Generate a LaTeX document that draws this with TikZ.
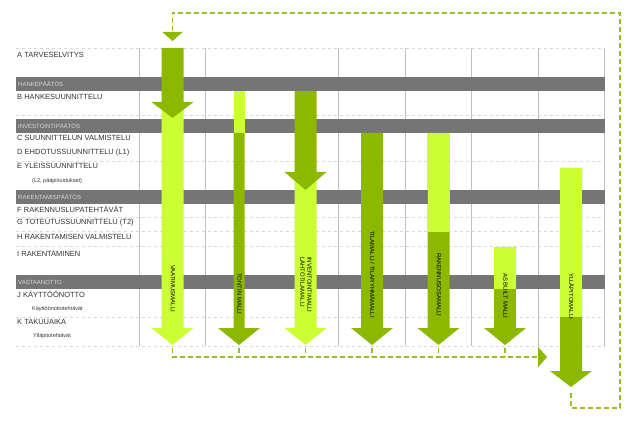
\documentclass[tikz,border=0pt]{standalone}
\usepackage{fontspec}
\setmainfont{Liberation Sans}
\usepackage{xcolor}
\definecolor{Dark}{RGB}{141,184,0}
\definecolor{Light}{RGB}{204,255,51}
\definecolor{BandCol}{RGB}{117,117,117}
\definecolor{LoopCol}{RGB}{152,190,40}
\usepackage{tikz}
\usetikzlibrary{arrows.meta}
\tikzstyle{Row}=[anchor=west,inner sep=0pt,text=black!80,
font=\fontsize{7.5}{9}\selectfont]
\tikzstyle{SubRow}=[anchor=west,inner sep=0pt,text=black!80,
font=\fontsize{5.5}{7}\selectfont]
\tikzstyle{BandText}=[anchor=west,inner sep=0pt,text=white!85!black,
font=\fontsize{6}{7}\selectfont]
\tikzstyle{Model}=[anchor=west,rotate=-90,inner sep=0pt,align=left,
font=\fontsize{6}{7}\selectfont]
\tikzstyle{Grid}=[draw=black!25,line width=.6pt]
\tikzstyle{RowLine}=[draw=black!15,dashed,line width=.5pt]
\tikzstyle{Loop}=[draw=LoopCol,line width=1.8pt,dash pattern=on 5pt off 3pt]
\tikzstyle{LoopTip}=[-{Triangle[width=20pt,length=9pt,color=Dark]}]
% colour, x, top, head base, tip, half shaft
\newcommand{\ModelArrow}[6]{\fill[#1] (#2-#6,#3) -- (#2+#6,#3) -- (#2+#6,#4)
    -- (#2+21,#4) -- (#2,#5) -- (#2-21,#4) -- (#2-#6,#4) -- cycle;}
\newcommand{\ModelBar}[5]{\fill[#1] (#2-#5,#3) rectangle (#2+#5,#4);}
\begin{document}
\begin{tikzpicture}[x=1pt,y=-1pt]
            \useasboundingbox (0,0) rectangle (637,422);
            \foreach \y in {48,115,161,217,231,246,317,346}
                \draw[RowLine] (16,\y) -- (605,\y);
            \foreach \x in {139,205.5,338.5,405,471.5,538,604.5}
                \draw[Grid] (\x,48) -- (\x,346);
            \foreach \y in {77,119,190,275}
                \fill[BandCol] (16,\y) rectangle (605,\y+14);
            \node[BandText](hp)at(18,84){HANKEPÄÄTÖS};
            \node[BandText](ip)at(18,126){INVESTOINTIPÄÄTÖS};
            \node[BandText](rp)at(18,197){RAKENTAMISPÄÄTÖS};
            \node[BandText](vo)at(18,282){VASTAANOTTO};
            \node[Row](A)at(17,55){A TARVESELVITYS};
            \node[Row](B)at(17,97){B HANKESUUNNITTELU};
            \node[Row](C)at(17,138){C SUUNNITTELUN VALMISTELU};
            \node[Row](D)at(17,153){D EHDOTUSSUUNNITTELU (L1)};
            \node[Row](E)at(17,166){E YLEISSUUNNITTELU};
            \node[SubRow](E2)at(32,181){(L2, pääpiirustukset)};
            \node[Row](F)at(17,209){F RAKENNUSLUPATEHTÄVÄT};
            \node[Row](G)at(17,223){G TOTEUTUSSUUNNITTELU (T2)};
            \node[Row](H)at(17,237){H RAKENTAMISEN VALMISTELU};
            \node[Row](I)at(17,254){I RAKENTAMINEN};
            \node[Row](J)at(17,294){J KÄYTTÖÖNOTTO};
            \node[SubRow](J2)at(32,309){Käyttöönottotehtävät};
            \node[Row](K)at(17,322){K TAKUUAIKA};
            \node[SubRow](K2)at(33,336){Ylläpitotehtävät};
            % vaatimusmalli
            \ModelArrow{Light}{172.5}{102}{328}{345}{11}
            \ModelArrow{Dark}{172.5}{48}{102}{118}{11}
            % tontin malli
            \ModelArrow{Dark}{239}{133}{328}{345}{5.5}
            \ModelBar{Light}{239}{91}{133}{5.5}
            % inventointimalli
            \ModelArrow{Light}{305.5}{172}{328}{345}{11}
            \ModelArrow{Dark}{305.5}{91}{172}{190}{11}
            % tilamalli
            \ModelArrow{Dark}{372}{133}{328}{345}{11}
            % rakennusosamalli
            \ModelArrow{Dark}{438.5}{133}{328}{345}{11}
            \ModelBar{Light}{438.5}{133}{232}{11}
            % as built
            \ModelArrow{Dark}{505}{247}{328}{345}{11}
            \ModelBar{Light}{505}{247}{289}{11}
            % yllapitomalli
            \ModelArrow{Dark}{571}{168}{371}{387}{11}
            \ModelBar{Light}{571}{168}{317}{11}
            \node[Model](m1)at(173,265){VAATIMUSMALLI};
            \node[Model](m2)at(239.5,273){TONTIN MALLI};
            \node[Model](m3)at(306,257){INVENTOINTIMALLI\\LÄHTÖTILAMALLI};
            \node[Model](m4)at(372.5,231){TILAMALLI / TILARYHMÄMALLI};
            \node[Model](m5)at(439,253){RAKENNUSOSAMALLI};
            \node[Model](m6)at(505.5,273){AS BUILT MALLI};
            \node[Model](m7)at(571.5,273){YLLÄPITOMALLI};
            % loops
            \coordinate(s1)at(172.5,348);
            \coordinate(e)at(547,357);
            \draw[Loop,LoopTip](s1)|-(e);
            \foreach \x in {239,305.5,372,438.5,505}
                \draw[Loop](\x,348)--(\x,357);
            \coordinate(y1)at(571,393);
            \coordinate(y2)at(620,408);
            \coordinate(y3)at(620,13);
            \coordinate(y4)at(172.5,41);
            \draw[Loop,LoopTip](y1)|-(y2)--(y3)-|(y4);
        \end{tikzpicture}
\end{document}
